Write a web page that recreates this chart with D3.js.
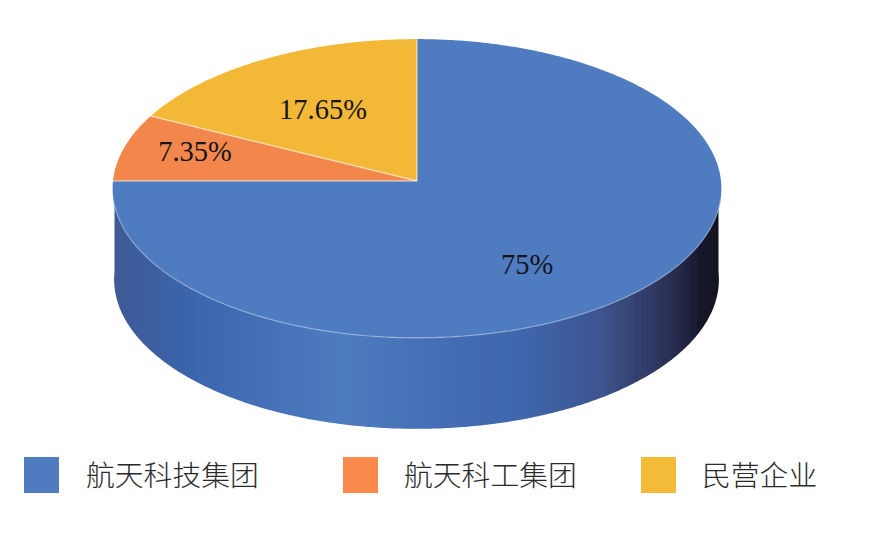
<!DOCTYPE html>
<html><head><meta charset="utf-8">
<script src="https://cdn.jsdelivr.net/npm/d3@7/dist/d3.min.js"></script>
<style>html,body{margin:0;padding:0;background:#fff}svg{display:block}</style>
</head><body><svg id="c" width="889" height="533"></svg>
<script>
const categories = ["航天科技集团","航天科工集团","民营企业"];
const values = [75, 7.35, 17.65];
const valueLabels = ["75%","7.35%","17.65%"];
const colors = ["#4f7cc0","#f3874b","#f3b835"];
const legendColors = ["#4f7cc0","#f98a4c","#f4bb38"];

const svg = d3.select("#c");
// projective ellipse: pie plane seen in slight perspective
const cx = 417, cy = 181, rx = 304, ry = 149, k = -0.05, depth = 91, wallRx = 302;
const proj = (a, dy=0, rr=rx, dx=0) => {
  const u = Math.sin(a), v = -Math.cos(a), w = 1 + k*v;
  return [cx + dx + rr*u/w, cy + ry*v/w + dy];
};
const arcPts = (a0, a1, dy=0, rr=rx, dx=0) => {
  const n = Math.max(2, Math.ceil(Math.abs(a1-a0)/0.01));
  return d3.range(n+1).map(i => proj(a0+(a1-a0)*i/n, dy, rr, dx));
};
const line = d3.line();
const defs = svg.append("defs");
const grad = defs.append("linearGradient").attr("id","wall").attr("gradientUnits","userSpaceOnUse")
  .attr("x1",cx-rx).attr("x2",cx+rx).attr("y1",0).attr("y2",0);
[[0,"#3f5a94"],[0.05,"#3d5d9e"],[0.14,"#3a67ae"],[0.25,"#4570b6"],[0.38,"#4f7cbf"],[0.52,"#456fb5"],[0.68,"#3f65ac"],[0.80,"#3d5590"],[0.867,"#343f6d"],[0.933,"#25294a"],[0.965,"#17172c"],[1,"#10111c"]]
 .forEach(([o,c])=>grad.append("stop").attr("offset",o).attr("stop-color",c));
defs.append("filter").attr("id","soft").attr("x","-5%").attr("y","-5%").attr("width","110%").attr("height","110%")
  .append("feGaussianBlur").attr("stdDeviation",0.5);

const g = svg.append("g").attr("filter","url(#soft)");
// wall: vertical sides at the wall radius, front curve shifted by the depth
const PI = Math.PI;
const wallTop = arcPts(PI/2, 3*PI/2, 0, wallRx, -0.5);
const wallBot = arcPts(3*PI/2, PI/2, depth, wallRx, -0.5);
g.append("path").attr("d", line(wallTop.concat(wallBot))+"Z").attr("fill","url(#wall)");

// slices
const pie = d3.pie().sort(null).startAngle(0).endAngle(2*PI);
const arcs = pie(values);
g.selectAll("path.slice").data(arcs).join("path").attr("class","slice")
  .attr("d", d => line([[cx,cy]].concat(arcPts(d.startAngle,d.endAngle)))+"Z")
  .attr("fill",(d,i)=>colors[i]);
// slice borders
g.selectAll("path.sep").data(arcs).join("path").attr("class","sep")
  .attr("d", d => line([proj(d.startAngle),[cx,cy]]))
  .attr("fill","none").attr("stroke","#fff").attr("stroke-opacity",0.5).attr("stroke-width",1.5);
// rim
g.append("path").attr("d", line(arcPts(PI*0.54, PI*1.46)))
  .attr("fill","none").attr("stroke","#a9bde0").attr("stroke-opacity",0.7).attr("stroke-width",1.2);

// labels
const labelX = [527, 195, 323], labelY = [274, 161, 119];
svg.selectAll("text.val").data(valueLabels).join("text").attr("class","val")
  .attr("x",(d,i)=>labelX[i]).attr("y",(d,i)=>labelY[i])
  .attr("text-anchor","middle")
  .attr("font-family","'Liberation Serif',serif").attr("font-size",28.5)
  .attr("fill","#14141e").text(d=>d);

// legend
const swatchX = [24, 343, 641], textX = [86, 404, 702];
const lg = svg.selectAll("g.lg").data(categories).join("g").attr("class","lg");
lg.append("rect").attr("x",(d,i)=>swatchX[i]).attr("y",457).attr("width",35).attr("height",36)
  .attr("fill",(d,i)=>legendColors[i]);
lg.append("text").attr("x",(d,i)=>textX[i]).attr("y",486)
  .attr("font-family","'Noto Sans CJK SC',sans-serif").attr("font-size",28.8).attr("font-weight",300)
  .attr("fill","#2a2a2a").text(d=>d);
</script></body></html>
